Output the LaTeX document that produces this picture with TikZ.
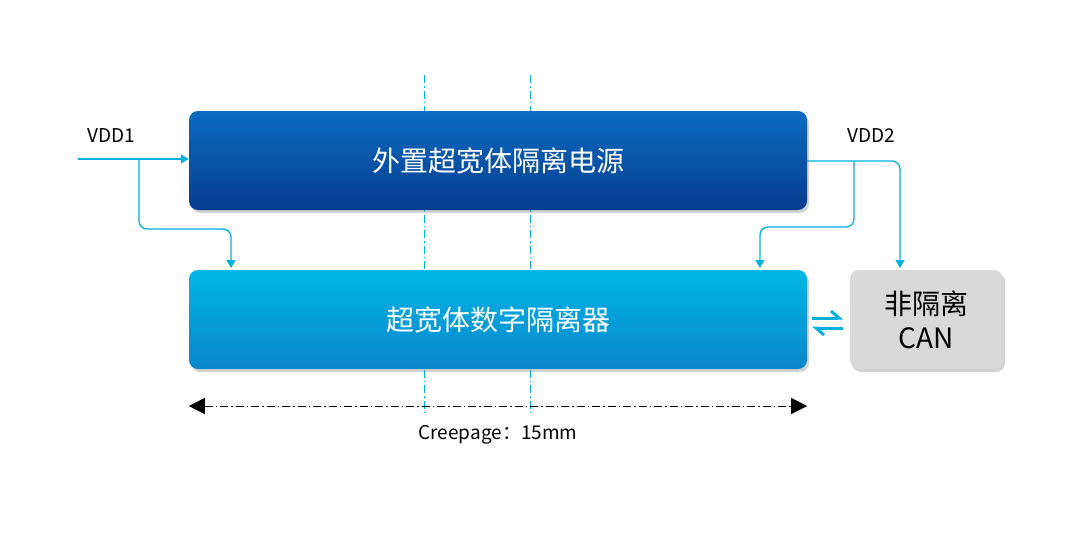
\documentclass[tikz,border=0pt]{standalone}
\usepackage{fontspec}
\setmainfont{Noto Sans CJK SC}
\usetikzlibrary{arrows.meta,shadows}
\definecolor{cy}{HTML}{00B0E0}
\definecolor{dbtop}{HTML}{0A6CC0}
\definecolor{dbbot}{HTML}{073C8E}
\definecolor{lbtop}{HTML}{00B6E6}
\definecolor{lbbot}{HTML}{0A86CC}
\begin{document}
\begin{tikzpicture}[x=1pt,y=-1pt,
  box/.style={rounded corners=9pt,minimum width=618pt,minimum height=99pt,text=white,font=\fontsize{28}{32}\selectfont,drop shadow={shadow xshift=2pt,shadow yshift=-3pt,opacity=0.35}},
  conn/.style={cy,line width=1.3pt,rounded corners=8pt,-{Triangle[length=8pt,width=9pt]}},
  guide/.style={cy,line width=0.9pt,dash pattern=on 8pt off 3pt on 1.5pt off 3pt}]
\useasboundingbox (0,0) rectangle (1080,538);
\draw[guide] (424,75) -- (424,412);
\draw[guide] (530,75) -- (530,412);
\node[box,top color=dbtop,bottom color=dbbot] (ps) at (498,160.5) {外置超宽体隔离电源};
\node[box,top color=lbtop,bottom color=lbbot] (iso) at (498,319.5) {超宽体数字隔离器};
\node[rounded corners=9pt,minimum width=153pt,minimum height=99pt,fill=black!15,align=center,font=\fontsize{28}{34}\selectfont,drop shadow={shadow xshift=2pt,shadow yshift=-3pt,opacity=0.35}] (can) at (926.5,319.5) {非隔离\\CAN};
\node[font=\fontsize{19}{22}\selectfont] (v1) at (111,136) {VDD1};
\node[font=\fontsize{19}{22}\selectfont] (v2) at (871,136) {VDD2};
\coordinate (s1) at (78,159);
\coordinate (b1) at (139,159);
\draw[conn] (s1) -- (ps.west |- s1);
\draw[conn] (b1) |- (231,229) -- (231,268);
\coordinate (s2) at (ps.east |- 0,161);
\draw[conn] (s2) -| (900,268);
\draw[conn] (854,161) |- (760,227) -- (760,268);
\node[font=\itshape\fontsize{19}{22}\selectfont] (cp) at (498,435) {Creepage：15mm};
\draw[black,line width=0.9pt,dash pattern=on 8pt off 3pt on 1.5pt off 3pt,{Triangle[length=16pt,width=16pt]}-{Triangle[length=16pt,width=16pt]}] (iso.west |- 0,406) -- (iso.east |- 0,406);
\draw[cy,line width=3pt,-{Straight Barb[left,length=8pt,width=14pt]}] (812,318) -- (843,318);
\draw[cy,line width=3pt,-{Straight Barb[left,length=8pt,width=14pt]}] (843,328) -- (812,328);
\end{tikzpicture}
\end{document}
